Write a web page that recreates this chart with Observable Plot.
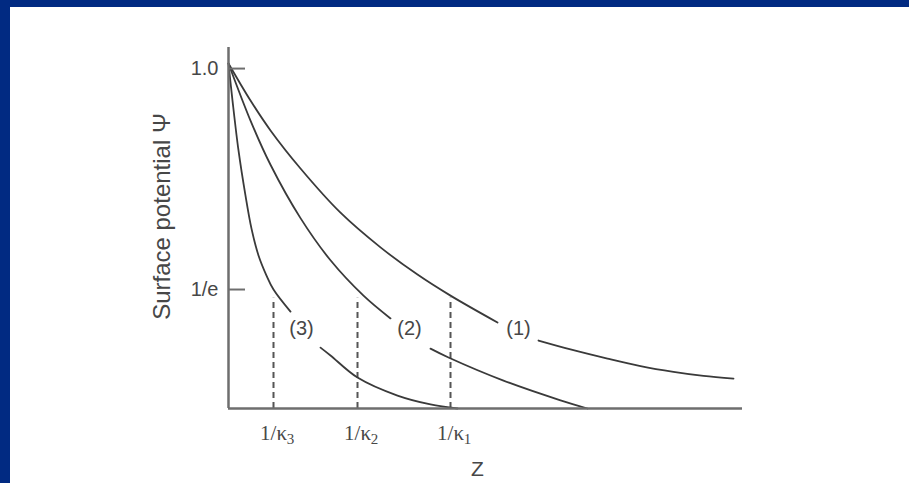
<!DOCTYPE html>
<html><head><meta charset="utf-8">
<script src="https://cdn.jsdelivr.net/npm/d3@7"></script>
<script src="https://cdn.jsdelivr.net/npm/@observablehq/plot@0.6"></script>
<style>
html,body{margin:0;padding:0;background:#012a82;width:909px;height:483px;overflow:hidden}
#chart{position:absolute;left:10px;top:7px;width:899px;height:476px;background:#fff}
</style></head><body><div id="chart"></div>
<script>
// Curve data (x in units of distance Z, y = surface potential), split where the labels interrupt the curves
const curve1Near = [[0,1.015],[0.22,0.906],[0.42,0.818],[0.72,0.706],[1.12,0.576],[1.52,0.474],[1.89,0.394],[2.22,0.332],[2.69,0.253]];
const curve1Far  = [[3.10,0.200],[3.42,0.174],[3.79,0.147],[4.12,0.125],[4.45,0.108],[4.75,0.096],[5.05,0.088]];
const curve2Near = [[0,1.015],[0.22,0.847],[0.42,0.717],[0.72,0.560],[1.02,0.436],[1.35,0.332],[1.62,0.265]];
const curve2Far  = [[2.02,0.176],[2.20,0.150],[2.75,0.082],[3.32,0.024],[3.59,0]];
const curve3Near = [[0,1.015],[0.04,0.906],[0.10,0.759],[0.17,0.626],[0.23,0.529],[0.30,0.450],[0.38,0.391],[0.45,0.350],[0.62,0.285]];
const curve3Far  = [[0.92,0.179],[1.02,0.156],[1.29,0.091],[1.69,0.038],[2.02,0.012],[2.29,0]];

const curveLabels = ["(1)", "(2)", "(3)"];
const curveLabelX = [2.90, 1.81, 0.73];
const curveLabelY = [0.236, 0.236, 0.236];

const kappaX = [0.45, 1.29, 2.22];
const kappaMain = ["1/\u03BA", "1/\u03BA", "1/\u03BA"];
const kappaSub = ["3", "2", "1"];
const kappaTop = 0.324;

const yTicks = [1.0, 0.35];
const yTickLabels = ["1.0", "1/e"];

const yAxisTitle = "Surface potential \u03A8";
const xAxisTitle = "Z";

const xMax = 5.14, yMax = 1.062;

// Build tables
const segments = [
  ["1a", curve1Near], ["1b", curve1Far],
  ["2a", curve2Near], ["2b", curve2Far],
  ["3a", curve3Near], ["3b", curve3Far]
];
const rows = segments.flatMap(([seg, pts]) => pts.map(([x, y]) => ({seg, x, y})));
const labelRows = curveLabels.map((t, i) => ({t, x: curveLabelX[i], y: curveLabelY[i]}));
const kappaRows = kappaX.map((x, i) => ({x, main: kappaMain[i], sub: kappaSub[i]}));

const sans = "'Liberation Sans', Arial, Helvetica, sans-serif";
const serif = "'Liberation Serif', 'Times New Roman', serif";
const ink = "#3a3a3a";
const txt = "#474747";

const chart = Plot.plot({
  width: 899,
  height: 476,
  marginLeft: 218,
  marginRight: 167,
  marginTop: 40,
  marginBottom: 75,
  style: {background: "white", overflow: "visible", fontFamily: sans},
  x: {domain: [0, xMax], axis: null},
  y: {domain: [0, yMax]},
  marks: [
    Plot.ruleX(kappaX, {y1: 0, y2: kappaTop, stroke: "#555", strokeWidth: 2, strokeDasharray: "6,4"}),
    Plot.line(rows, {x: "x", y: "y", z: "seg", curve: "catmull-rom", stroke: ink, strokeWidth: 1.8}),
    Plot.ruleX([0], {stroke: "#6e6e6e", strokeWidth: 2.5}),
    Plot.ruleY([0], {stroke: "#6e6e6e", strokeWidth: 2.5}),
    Plot.ruleY(yTicks, {x1: 0, x2: 0.17, stroke: "#6e6e6e", strokeWidth: 2}),
    Plot.axisY({ticks: yTicks, tickFormat: d => yTickLabels[yTicks.indexOf(d)], tickSize: 0, tickPadding: 10, fontSize: 20, fontFamily: sans, fill: txt, label: null}),
    Plot.text(kappaRows, {x: "x", y: 0, text: "main", dy: 25, fontSize: 21, fontFamily: serif, fill: txt}),
    Plot.text(kappaRows, {x: "x", y: 0, text: "sub", dx: 17, dy: 31, fontSize: 15, fontFamily: serif, fill: txt}),
    Plot.text(labelRows, {x: "x", y: "y", text: "t", fontSize: 20, fontFamily: sans, fill: txt}),
    Plot.text([yAxisTitle], {x: -0.66, y: 0.565, text: d => d, rotate: -90, fontSize: 24, fontFamily: sans, fill: txt}),
    Plot.text([xAxisTitle], {x: 2.49, y: 0, dy: 61, text: d => d, fontSize: 21, fontFamily: sans, fill: txt})
  ]
});
document.getElementById("chart").appendChild(chart);
</script>
</body></html>
